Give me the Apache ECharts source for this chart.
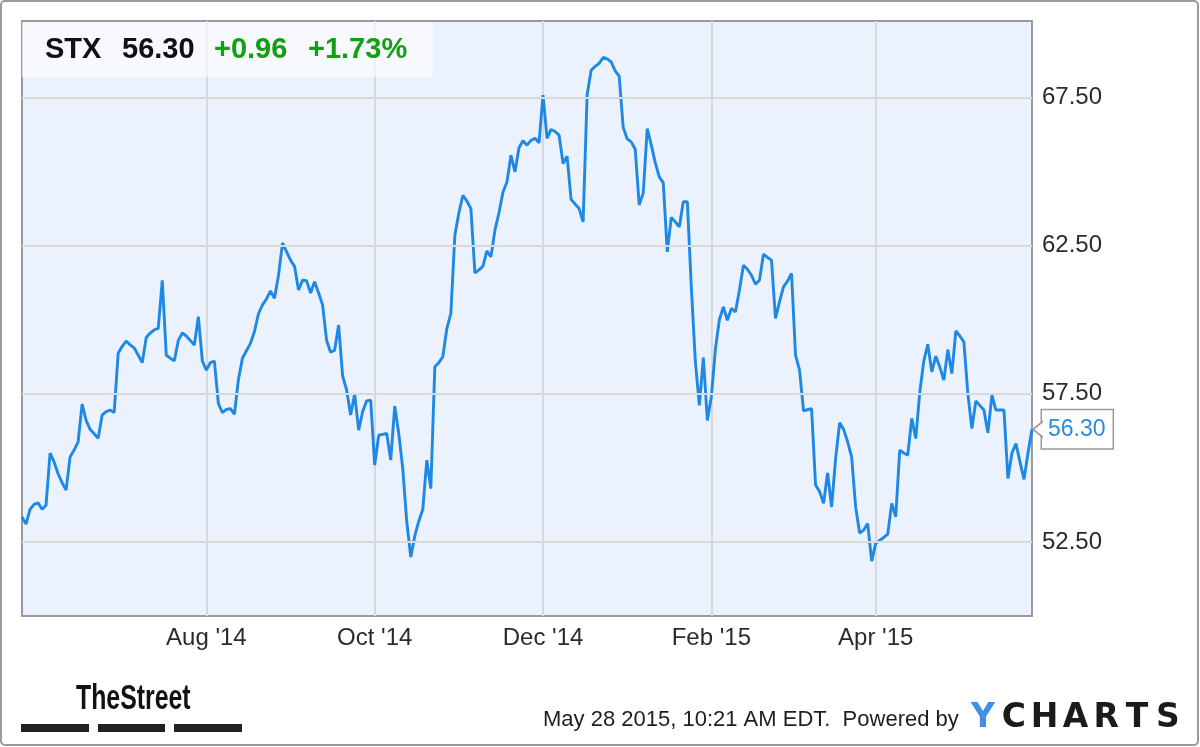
<!DOCTYPE html>
<html>
<head>
<meta charset="utf-8">
<script src="https://cdn.jsdelivr.net/npm/echarts@6/dist/echarts.min.js"></script>
<style>
html,body{margin:0;padding:0;background:#fff;}
#chart{width:1200px;height:747px;}
</style>
</head>
<body>
<div id="chart"></div>
<script>
// ---- data ----
const ticker = 'STX';
const lastPrice = '56.30';
const change = '+0.96';
const changePct = '+1.73%';
const stamp = 'May 28 2015, 10:21 AM EDT.  Powered by';

const startDate = '2014-05-28';
const endDate = '2015-05-28';
const holidays = ['2014-07-04','2014-09-01','2014-11-27','2014-12-25','2015-01-01','2015-01-19','2015-02-16','2015-04-03','2015-05-25'];

const tickLabels = ["Aug '14", "Oct '14", "Dec '14", "Feb '15", "Apr '15"];
const yTickLabels = [52.5, 57.5, 62.5, 67.5];

const prices = [
53.34,53.10,53.60,53.77,53.82,53.60,53.74,55.50,55.20,54.80,
54.50,54.25,55.37,55.60,55.88,57.15,56.60,56.30,56.15,56.00,
56.78,56.90,56.95,56.87,58.87,59.10,59.28,59.15,59.05,58.80,
58.55,59.40,59.55,59.66,59.71,61.33,58.80,58.70,58.61,59.30,
59.55,59.45,59.30,59.14,60.10,58.60,58.30,58.55,58.60,57.17,
56.86,56.97,57.00,56.81,57.98,58.70,58.95,59.20,59.60,60.20,
60.50,60.70,60.97,60.72,61.50,62.59,62.30,62.01,61.80,61.00,
61.33,61.32,60.90,61.28,60.90,60.50,59.30,58.90,58.97,59.82,
58.10,57.62,56.78,57.49,56.27,56.90,57.26,57.28,55.09,56.10,
56.13,56.16,55.26,57.08,56.16,54.98,53.18,51.99,52.70,53.20,
53.60,55.26,54.30,58.41,58.55,58.75,59.70,60.21,62.85,63.60,
64.20,64.00,63.75,61.58,61.68,61.80,62.32,62.12,63.02,63.60,
64.30,64.65,65.55,64.99,65.80,66.04,65.89,66.05,66.12,65.97,
67.58,66.12,66.42,66.35,66.23,65.27,65.52,64.06,63.90,63.75,
63.30,67.58,68.42,68.55,68.65,68.85,68.80,68.70,68.40,68.22,
66.49,66.10,66.00,65.75,63.87,64.28,66.45,65.90,65.30,64.82,
64.62,62.29,63.45,63.30,63.13,63.98,63.98,61.10,58.60,57.11,
58.72,56.60,57.40,59.00,60.00,60.43,59.98,60.38,60.26,60.99,
61.84,61.70,61.50,61.20,61.33,62.21,62.10,62.01,60.04,60.60,
61.11,61.30,61.56,58.80,58.30,56.92,56.96,57.00,54.42,54.20,
53.80,54.83,53.68,55.31,56.52,56.30,55.88,55.37,53.68,52.80,
52.90,53.12,51.85,52.45,52.55,52.65,52.76,53.80,53.35,55.60,
55.50,55.43,56.67,55.99,57.56,58.60,59.17,58.24,58.77,58.40,
57.96,58.99,58.18,59.62,59.45,59.25,57.50,56.33,57.26,57.10,
56.95,56.18,57.45,56.95,56.95,56.95,54.64,55.50,55.82,55.20,
54.61,55.50,56.30
];

// ---- trading-day categories ----
const monthNames = ['Jan','Feb','Mar','Apr','May','Jun','Jul','Aug','Sep','Oct','Nov','Dec'];
function iso(d){return d.toISOString().slice(0,10);}
const dates = [];
(function(){
  let d = new Date(startDate + 'T00:00:00Z');
  const end = new Date(endDate + 'T00:00:00Z');
  while (d <= end) {
    const wd = d.getUTCDay();
    const s = iso(d);
    if (wd !== 0 && wd !== 6 && holidays.indexOf(s) < 0) dates.push(s);
    d = new Date(d.getTime() + 86400000);
  }
})();
function monthLabel(s){
  const m = parseInt(s.slice(5,7),10)-1;
  return monthNames[m] + " '" + s.slice(2,4);
}
function isTick(index){
  const s = dates[index];
  if (!s || index === 0) return false;
  if (dates[index-1].slice(0,7) === s.slice(0,7)) return false;
  return tickLabels.indexOf(monthLabel(s)) >= 0;
}

const chart = echarts.init(document.getElementById('chart'), null, {renderer:'canvas'});
const FONT = "'Liberation Sans', Arial, sans-serif";
const lastIdx = prices.length - 1;

const yLetters = ['Y','C','H','A','R','T','S'];
const yGraphics = yLetters.map((ch, i) => ({
  type:'text', z:100,
  style:{ text: ch, x: 983 + i*30.8, y: 718, align:'center', verticalAlign:'middle',
    font: "bold 33px 'DejaVu Sans', sans-serif", fill: i === 0 ? '#3f8fe6' : '#1b1b1b' }
}));

const option = {
  animation:false,
  backgroundColor:'#ffffff',
  grid:{ left:22, right:168, top:21, bottom:131, show:true, backgroundColor:'#ebf1fd', borderColor:'#9a9a9a', borderWidth:2 },
  xAxis:{
    type:'category', data:dates, boundaryGap:false,
    axisLine:{show:false}, axisTick:{show:false},
    axisLabel:{ interval:(i)=>isTick(i), formatter:(v)=>monthLabel(v), color:'#2b2b2b', fontSize:24, fontFamily:FONT, margin:10 },
    splitLine:{ show:true, interval:(i)=>isTick(i), lineStyle:{color:'#d9d9d9', width:2} }
  },
  yAxis:{
    type:'value', position:'right', min:50, max:70.08, interval:2.5,
    axisLine:{show:false}, axisTick:{show:false}, splitLine:{show:false},
    axisLabel:{ color:'#2b2b2b', fontSize:24, fontFamily:FONT, margin:10, align:'left',
      formatter:(v)=> yTickLabels.some(t=>Math.abs(t-v)<1e-6) ? v.toFixed(2) : '' },
    showMaxLabel:false
  },
  series:[
    { type:'line', data:[], z:1, silent:true,
      markLine:{ silent:true, symbol:['none','none'], label:{show:false},
        lineStyle:{color:'#d9d9d9', width:2, type:'solid'},
        data: yTickLabels.map(v=>({yAxis:v})) } },
    { type:'line', data:prices, z:3, symbol:'none', showSymbol:false,
      lineStyle:{color:'#1e88e5', width:2.9}, itemStyle:{color:'#1e88e5'},
      endLabel:{ show:true, formatter:()=>lastPrice, distance:10, color:'#2a8de2', fontSize:23, fontFamily:FONT,
        backgroundColor:'#ffffff', borderColor:'#9a9a9a', borderWidth:1.5, padding:[8,7,7,6] },
      markPoint:{ silent:true, symbol:'path://M10,0 L0,7 L10,14', symbolSize:[10,16], symbolOffset:[6,0],
        itemStyle:{color:'#ffffff', borderColor:'#9a9a9a', borderWidth:1.5},
        label:{show:false},
        data:[{coord:[lastIdx, prices[lastIdx]]}] }
    }
  ],
  graphic:[
    { type:'rect', z:50, shape:{x:1, y:1, width:1197, height:744, r:4}, style:{fill:'none', stroke:'#9a9a9a', lineWidth:2} },
    { type:'rect', z:50, shape:{x:22, y:22, width:411, height:55}, style:{fill:'rgba(255,255,255,0.6)'} },
    { type:'text', z:60, style:{ text:ticker, x:45, y:50, verticalAlign:'middle', font:'bold 29px '+FONT, fill:'#111' } },
    { type:'text', z:60, style:{ text:lastPrice, x:122, y:50, verticalAlign:'middle', font:'bold 29px '+FONT, fill:'#111' } },
    { type:'text', z:60, style:{ text:change, x:214, y:50, verticalAlign:'middle', font:'bold 29px '+FONT, fill:'#12a012' } },
    { type:'text', z:60, style:{ text:changePct, x:308, y:50, verticalAlign:'middle', font:'bold 29px '+FONT, fill:'#12a012' } },
    { type:'text', z:60, x:76, y:699, scaleX:0.71, style:{ text:'TheStreet', x:0, y:0, verticalAlign:'middle', font:'bold 35px '+FONT, fill:'#111' } },
    { type:'rect', z:60, shape:{x:21, y:724, width:68, height:8}, style:{fill:'#222'} },
    { type:'rect', z:60, shape:{x:98, y:724, width:67, height:8}, style:{fill:'#222'} },
    { type:'rect', z:60, shape:{x:174, y:724, width:68, height:8}, style:{fill:'#222'} },
    { type:'text', z:60, style:{ text:stamp, x:543, y:720, verticalAlign:'middle', font:'22px '+FONT, fill:'#1e1e1e' } }
  ].concat(yGraphics)
};
chart.setOption(option);
</script>
</body>
</html>
